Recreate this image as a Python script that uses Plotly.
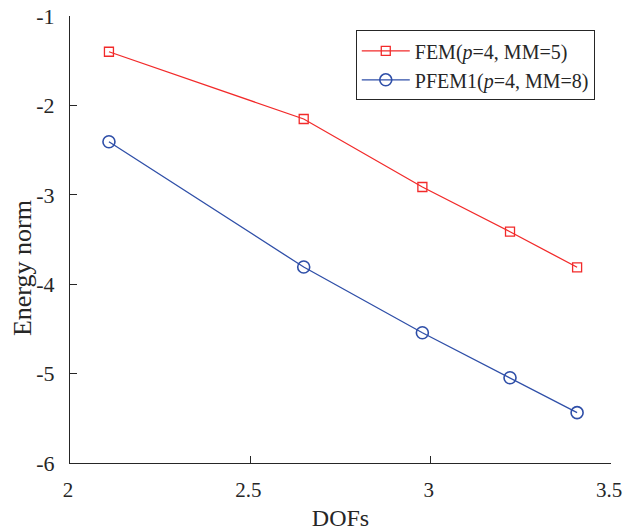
import plotly.graph_objects as go

# log10 of degrees of freedom and log10 of energy-norm error
dofs = [2.108, 2.648, 2.977, 3.220, 3.406]
fem_err = [-1.40, -2.152, -2.913, -3.413, -3.811]
pfem_err = [-2.406, -3.808, -4.543, -5.046, -5.437]

x_ticks = [2, 2.5, 3, 3.5]
x_tick_text = ["2", "2.5", "3", "3.5"]
y_ticks = [-6, -5, -4, -3, -2, -1]
y_tick_text = ["-6", "-5", "-4", "-3", "-2", "-1"]

serif = "Liberation Serif"
axis_col = "#262626"

fig = go.Figure()
fig.add_trace(go.Scatter(
    x=dofs, y=fem_err, mode="lines+markers",
    name="FEM(<i>p</i>=4, MM=5)",
    line=dict(color="#f22a2a", width=1.3),
    marker=dict(symbol="square-open", size=9, color="#f22a2a", line=dict(width=1.3)),
))
fig.add_trace(go.Scatter(
    x=dofs, y=pfem_err, mode="lines+markers",
    name="PFEM1(<i>p</i>=4, MM=8)",
    line=dict(color="#2f4fa8", width=1.3),
    marker=dict(symbol="circle-open", size=12, color="#2f4fa8", line=dict(width=1.6)),
))

fig.update_layout(
    width=623, height=531,
    margin=dict(l=70, r=12, t=16, b=68, autoexpand=False),
    paper_bgcolor="white", plot_bgcolor="white",
    font=dict(family=serif, size=22, color="#262626"),
    showlegend=True,
    legend=dict(
        x=0.97, y=0.968, xanchor="right", yanchor="top",
        bordercolor=axis_col, borderwidth=1, bgcolor="white",
        font=dict(family=serif, size=20, color="#262626"),
        tracegroupgap=0, itemwidth=48,
    ),
    xaxis=dict(
        range=[2, 3.5], tickvals=x_ticks, ticktext=x_tick_text,
        ticks="inside", ticklen=7, tickcolor=axis_col, tickwidth=1,
        showline=True, linecolor=axis_col, linewidth=1,
        showgrid=False, zeroline=False, automargin=False,
        ticklabeloverflow="allow", ticklabelstandoff=8, ticklabelshift=-2,
        title=dict(text="DOFs", font=dict(size=24)),
        tickfont=dict(size=21),
    ),
    yaxis=dict(
        range=[-6, -1], tickvals=y_ticks, ticktext=y_tick_text,
        ticks="inside", ticklen=7, tickcolor=axis_col, tickwidth=1,
        showline=True, linecolor=axis_col, linewidth=1,
        showgrid=False, zeroline=False, automargin=False,
        ticklabelstandoff=10,
        tickfont=dict(size=22),
    ),
    annotations=[dict(
        text="Energy norm", textangle=-90, showarrow=False,
        xref="paper", yref="paper", x=0, y=0.436,
        xanchor="center", yanchor="middle", xshift=-48,
        font=dict(family=serif, size=26, color="#262626"),
    )],
)

fig.write_html("out.html")
